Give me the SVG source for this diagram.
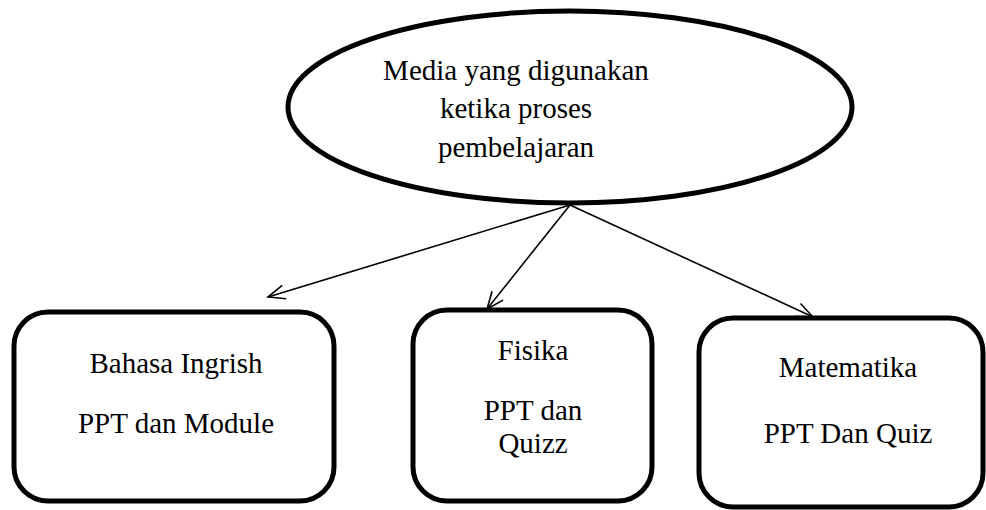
<svg xmlns="http://www.w3.org/2000/svg" width="986" height="510" viewBox="0 0 986 510">
  <style>
    .shape { fill: #ffffff; stroke: #000000; stroke-width: 5; }
    .label { font-family: "Liberation Serif", "Times New Roman", serif; font-size: 29px; fill: #000000; text-anchor: middle; }
    .link { stroke: #000000; stroke-width: 1.6; fill: none; marker-end: url(#open-arrow); }
  </style>
  <defs>
    <marker id="open-arrow" markerUnits="userSpaceOnUse" markerWidth="20" markerHeight="18" refX="18" refY="9" orient="auto">
      <path d="M1,2 L18,9 L1,16" fill="none" stroke="#000000" stroke-width="1.6"/>
    </marker>
  </defs>

  <rect width="986" height="510" fill="#ffffff"/>

  <!-- central topic -->
  <g id="media">
    <ellipse class="shape" cx="570" cy="107" rx="282" ry="96"/>
    <text class="label" x="516" y="80">Media yang digunakan</text>
    <text class="label" x="516" y="118">ketika proses</text>
    <text class="label" x="516" y="157">pembelajaran</text>
  </g>

  <!-- connectors from the central topic to each subject -->
  <g id="connectors">
    <line class="link" x1="570" y1="205" x2="268" y2="297"/>
    <line class="link" x1="570" y1="205" x2="487" y2="309"/>
    <line class="link" x1="570" y1="205" x2="813" y2="317"/>
  </g>

  <g id="bahasa-ingrish">
    <rect class="shape" x="14" y="312" width="320" height="189" rx="34" ry="34"/>
    <text class="label" x="176" y="373">Bahasa Ingrish</text>
    <text class="label" x="176" y="433">PPT dan Module</text>
  </g>

  <g id="fisika">
    <rect class="shape" x="413" y="310" width="239" height="191" rx="34" ry="34"/>
    <text class="label" x="533" y="360">Fisika</text>
    <text class="label" x="533" y="420">PPT dan</text>
    <text class="label" x="533" y="453">Quizz</text>
  </g>

  <g id="matematika">
    <rect class="shape" x="699" y="318" width="284" height="189" rx="34" ry="34"/>
    <text class="label" x="848" y="377">Matematika</text>
    <text class="label" x="848" y="443">PPT Dan Quiz</text>
  </g>
</svg>
